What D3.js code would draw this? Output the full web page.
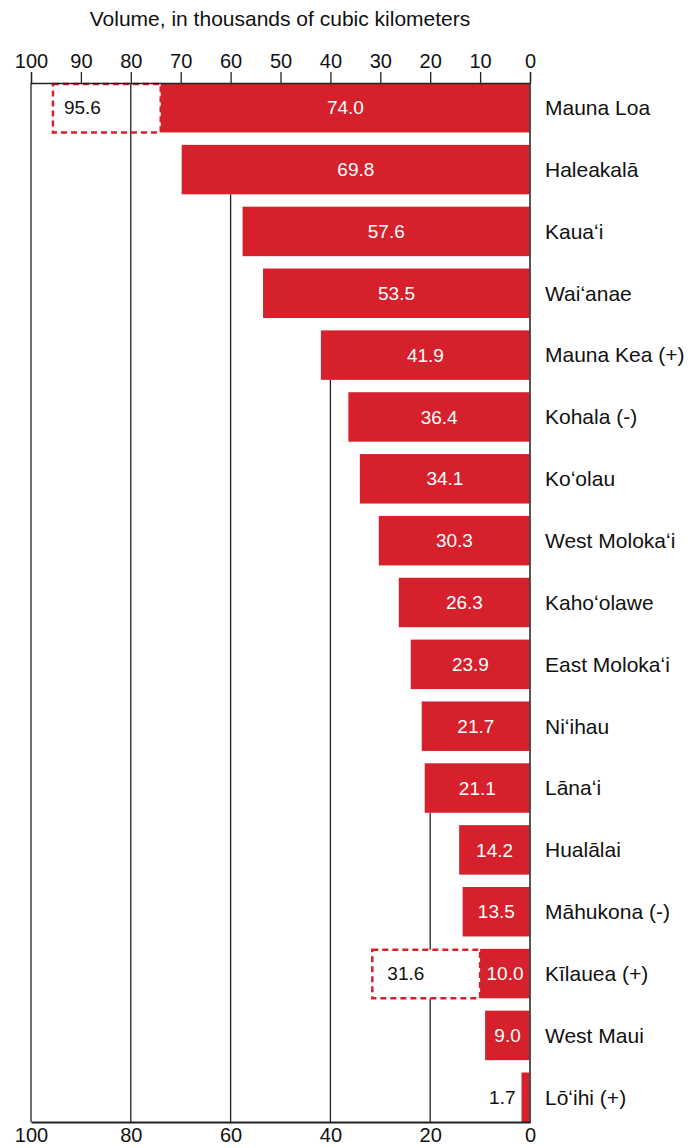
<!DOCTYPE html>
<html>
<head>
<meta charset="utf-8">
<script src="https://cdn.jsdelivr.net/npm/d3@7"></script>
<style>
  body { margin: 0; background: #fff; }
  svg text { font-family: "Liberation Sans Narrow", "Arial Narrow", "Liberation Sans", sans-serif; }
</style>
</head>
<body>
<div id="chart"></div>
<script>
// volcano volumes, thousands of km3
const volcanoes = ["Mauna Loa", "Haleakalā", "Kauaʻi", "Waiʻanae", "Mauna Kea (+)", "Kohala (-)",
    "Koʻolau", "West Molokaʻi", "Kahoʻolawe", "East Molokaʻi", "Niʻihau", "Lānaʻi", "Hualālai",
    "Māhukona (-)", "Kīlauea (+)", "West Maui", "Lōʻihi (+)"];
const volumes = [74.0, 69.8, 57.6, 53.5, 41.9, 36.4, 34.1, 30.3, 26.3, 23.9, 21.7, 21.1, 14.2, 13.5, 10.0, 9.0, 1.7];
// dashed outline (alternate estimate), only for two volcanoes
const altVolumes = [95.6, null, null, null, null, null, null, null, null, null, null, null, null, null, 31.6, null, null];
const topTicks = [100, 90, 80, 70, 60, 50, 40, 30, 20, 10, 0];
const bottomTicks = [100, 80, 60, 40, 20, 0];
const gridValues = [100, 80, 60, 40, 20];

const width = 699, height = 1148;
const red = "#d6202b";

const svg = d3.select("#chart").append("svg")
    .attr("width", width)
    .attr("height", height);

const x = d3.scaleLinear().domain([0, 100]).range([530, 31]);
const y = d3.scaleBand().domain(volcanoes).range([83, 1122]).paddingInner(0.2).paddingOuter(0);
const plotTop = 83, plotBottom = 1122;

const rows = volcanoes.map((name, i) => ({ name, value: volumes[i], alt: altVolumes[i] }));

// gridlines start below the last solid bar that reaches past them
const grid = svg.append("g");
gridValues.forEach(v => {
    const over = rows.filter(r => r.value > v);
    const y0 = over.length ? y(over[over.length - 1].name) + y.bandwidth() : plotTop;
    grid.append("line")
        .attr("x1", x(v)).attr("x2", x(v))
        .attr("y1", y0).attr("y2", plotBottom)
        .attr("stroke", "#222")
        .attr("stroke-width", 1.3);
});

// dashed boxes
const alts = rows.filter(r => r.alt != null);
svg.append("g").selectAll("rect")
    .data(alts)
    .join("rect")
    .attr("x", d => x(d.alt))
    .attr("y", d => y(d.name) + 1)
    .attr("width", d => x(d.value) - x(d.alt))
    .attr("height", y.bandwidth() - 1)
    .attr("fill", d => d.name === "Mauna Loa" ? "none" : "#fff")
    .attr("stroke", red)
    .attr("stroke-width", 2.5)
    .attr("stroke-dasharray", "6,4");

svg.append("g").selectAll("text")
    .data(alts)
    .join("text")
    .attr("x", d => x(d.alt) + (d.name === "Mauna Loa" ? 11 : 15))
    .attr("y", d => y(d.name) + y.bandwidth() / 2)
    .attr("dy", "0.35em")
    .attr("font-size", 19)
    .attr("fill", "#111")
    .text(d => d.alt.toFixed(1));

// bars
svg.append("g").selectAll("rect")
    .data(rows)
    .join("rect")
    .attr("x", d => x(d.value))
    .attr("y", d => y(d.name))
    .attr("width", d => x(0) - x(d.value))
    .attr("height", y.bandwidth())
    .attr("fill", red);

// value labels
svg.append("g").selectAll("text")
    .data(rows)
    .join("text")
    .attr("x", d => d.value < 5 ? x(d.value) - 6 : (x(d.value) + x(0)) / 2)
    .attr("y", d => y(d.name) + y.bandwidth() / 2)
    .attr("dy", "0.35em")
    .attr("text-anchor", d => d.value < 5 ? "end" : "middle")
    .attr("font-size", 19)
    .attr("fill", d => d.value < 5 ? "#111" : "#fff")
    .text(d => d.value.toFixed(1));

// zero line
svg.append("line")
    .attr("x1", x(0)).attr("x2", x(0))
    .attr("y1", plotTop).attr("y2", plotBottom + 1)
    .attr("stroke", "#444")
    .attr("stroke-width", 1.8);

// category labels
svg.append("g").selectAll("text")
    .data(rows)
    .join("text")
    .attr("x", 545)
    .attr("y", d => y(d.name) + y.bandwidth() / 2)
    .attr("dy", "0.35em")
    .attr("font-size", 21)
    .attr("fill", "#111")
    .text(d => d.name);

// top axis
const topAxis = svg.append("g")
    .attr("transform", `translate(0,${plotTop})`)
    .call(d3.axisTop(x).tickValues(topTicks).tickSize(11).tickPadding(4).tickFormat(d3.format("d")));
topAxis.select(".domain").attr("stroke", "#222").attr("stroke-width", 1.3);
topAxis.selectAll(".tick line").attr("stroke", "#222").attr("stroke-width", 1.3);
topAxis.selectAll("text").attr("font-size", 20).attr("fill", "#111")
    .style("font-family", "'Liberation Sans Narrow', 'Arial Narrow', sans-serif");

// bottom axis
const bottomAxis = svg.append("g")
    .attr("transform", `translate(0,${plotBottom})`)
    .call(d3.axisBottom(x).tickValues(bottomTicks).tickSize(0).tickPadding(6).tickFormat(d3.format("d")));
bottomAxis.select(".domain").attr("stroke", "#222").attr("stroke-width", 2);
bottomAxis.selectAll("text").attr("font-size", 20).attr("fill", "#111")
    .style("font-family", "'Liberation Sans Narrow', 'Arial Narrow', sans-serif");

// title
svg.append("text")
    .attr("x", 280)
    .attr("y", 26)
    .attr("text-anchor", "middle")
    .attr("font-size", 21)
    .attr("fill", "#111")
    .text("Volume, in thousands of cubic kilometers");
</script>
</body>
</html>
